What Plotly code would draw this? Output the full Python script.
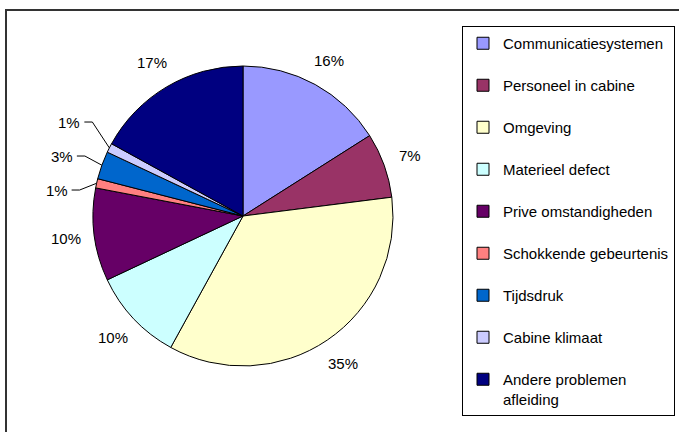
import math
import plotly.graph_objects as go

# oorzaken en aandeel (%)
oorzaken = ["Communicatiesystemen", "Personeel in cabine", "Omgeving", "Materieel defect",
            "Prive omstandigheden", "Schokkende gebeurtenis", "Tijdsdruk", "Cabine klimaat",
            "Andere problemen<br>afleiding"]
aandeel = [16, 7, 35, 10, 10, 1, 3, 1, 17]
kleuren = ["#9999FF", "#993366", "#FFFFCC", "#CCFFFF", "#660066",
           "#FF8080", "#0066CC", "#CCCCFF", "#000080"]

W, H = 679, 432
CX, CY, R = 243, 216, 150   # pie centre / radius in pixels

# legend labels get an empty second line so the items are spaced like the original
legend_labels = [o if "<br>" in o else o + "<br> " for o in oorzaken]

fig = go.Figure(go.Pie(
    labels=legend_labels,
    values=aandeel,
    sort=False,
    direction="clockwise",
    rotation=0,
    marker=dict(colors=kleuren, line=dict(color="black", width=1)),
    textinfo="none",
    domain=dict(x=[(CX - R) / W, (CX + R) / W], y=[1 - (CY + R) / H, 1 - (CY - R) / H]),
    hoverinfo="label+percent",
))

def px(x):
    return x / W

def py(y):
    return 1 - y / H

# percentage labels outside the pie, small slices get a leader line (like excel)
totaal = sum(aandeel)
cum = 0
klein = []
for v in aandeel:
    mid = (cum + v / 2) / totaal * 2 * math.pi
    cum += v
    tekst = "%d%%" % round(v / totaal * 100)
    s, c = math.sin(mid), math.cos(mid)
    if v < 5:
        klein.append([mid, tekst, CY - (R + 28) * c])
        continue
    fig.add_annotation(x=px(CX + (R + 28) * s), y=py(CY - (R + 28) * c),
                       xref="paper", yref="paper", text=tekst, showarrow=False,
                       xanchor="center", yanchor="middle", font=dict(size=15))

# spread the small labels vertically
gap = 34
klein.sort(key=lambda k: k[2])
mean_y = sum(k[2] for k in klein) / len(klein)
for i, k in enumerate(klein):
    k[2] = mean_y + (i - (len(klein) - 1) / 2) * gap

for mid, tekst, ly in klein:
    ex, ey = CX + R * math.sin(mid), CY - R * math.cos(mid)
    tx = ex - 27
    fig.add_annotation(x=px(tx), y=py(ly), xref="paper", yref="paper", text=tekst,
                       showarrow=False, xanchor="right", yanchor="middle", font=dict(size=15))
    fig.add_shape(type="path", xref="paper", yref="paper",
                  path="M %f,%f L %f,%f L %f,%f" % (px(tx + 2), py(ly), px(tx + 10), py(ly),
                                                      px(ex), py(ey)),
                  line=dict(color="black", width=1))

fig.add_shape(type="rect", xref="paper", yref="paper",
              x0=6 / W, x1=1.02, y0=-0.02, y1=1 - 10 / H,
              line=dict(color="#333333", width=2))

fig.update_layout(
    width=W, height=H,
    margin=dict(l=0, r=0, t=0, b=0),
    paper_bgcolor="white",
    font=dict(family="Arial, Liberation Sans, sans-serif", size=15, color="black"),
    legend=dict(x=462 / W, y=1 - 26 / H, xanchor="left", yanchor="top",
                bordercolor="black", borderwidth=1, bgcolor="white",
                valign="top", font=dict(size=15), traceorder="normal"),
)

fig.write_html("out.html", config={"displayModeBar": False},
               post_script="document.body.style.margin='0px';")
